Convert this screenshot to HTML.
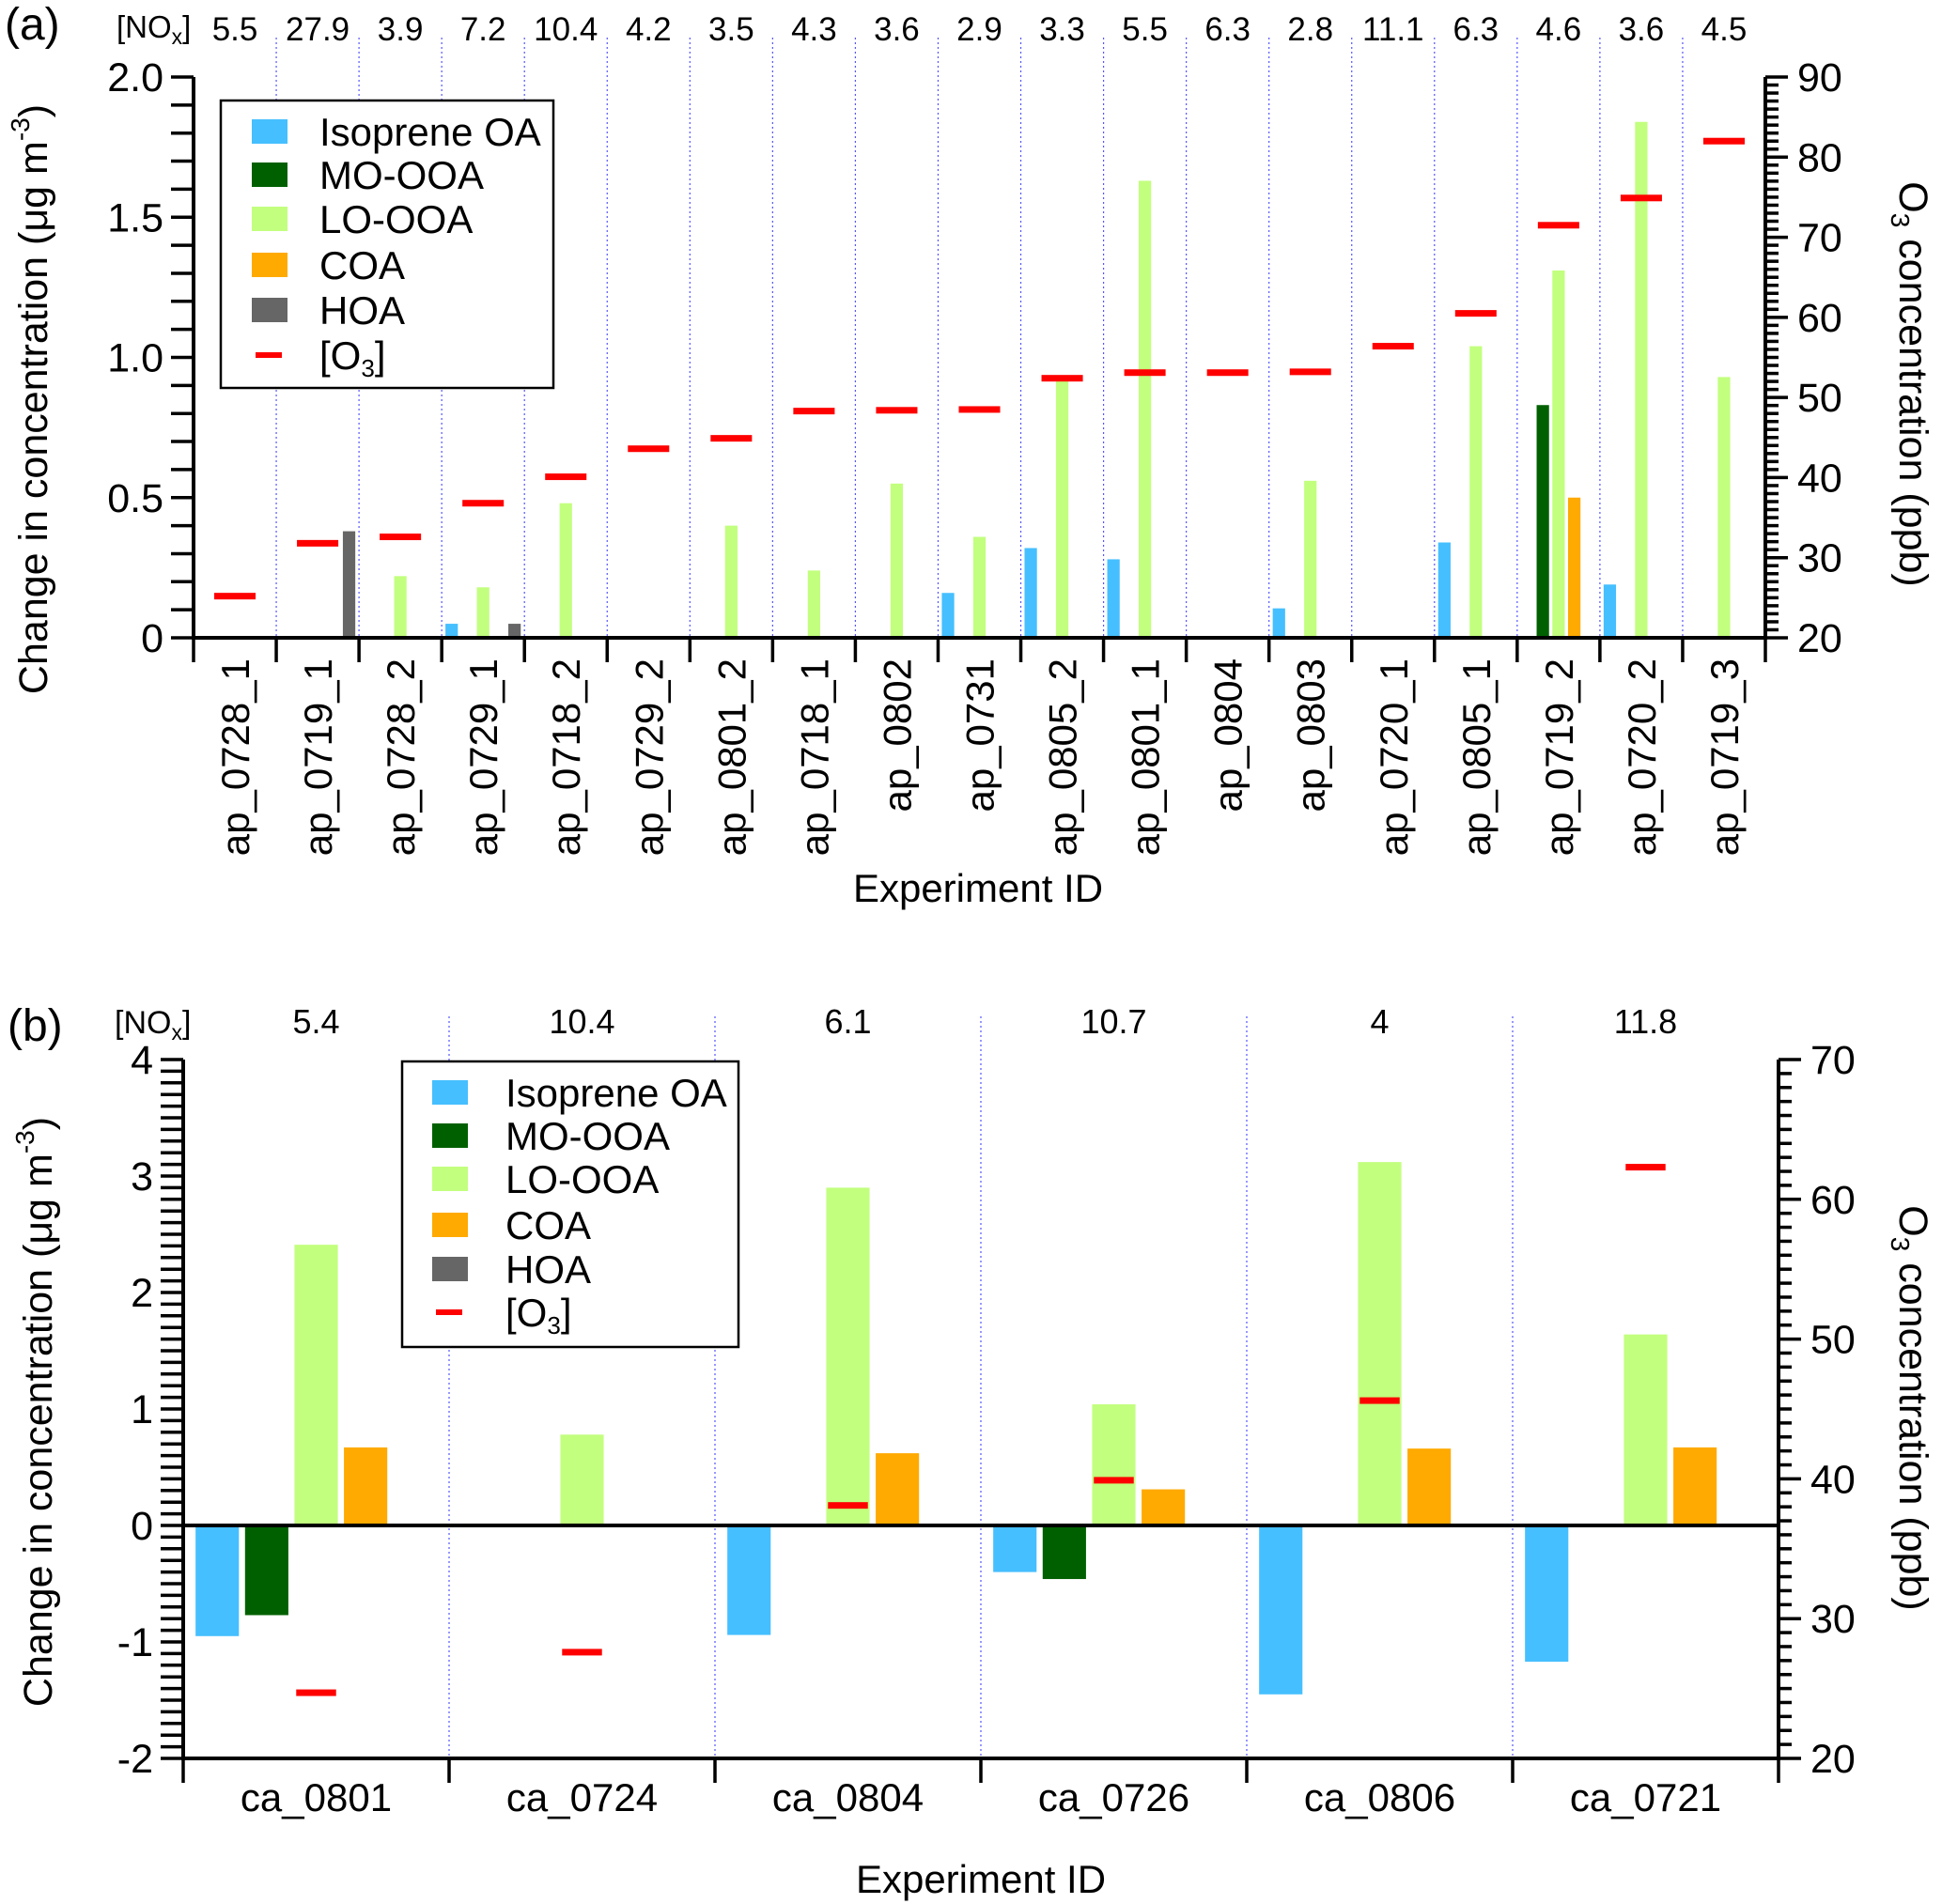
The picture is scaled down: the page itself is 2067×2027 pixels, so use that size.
<!DOCTYPE html>
<html><head><meta charset="utf-8"><style>
html,body{margin:0;padding:0;background:#fff;}
svg{display:block;font-family:"Liberation Sans",Arial,sans-serif;}
</style></head><body>
<svg id="chart" width="2067" height="2027" viewBox="0 0 2067 2027" xmlns="http://www.w3.org/2000/svg">
<rect width="2067" height="2027" fill="#fff"/>
<g id="pa"></g>
<g id="pb"></g>
</svg>
<script>
// ---- Panel (a) data ----
const catsA = ["ap_0728_1","ap_0719_1","ap_0728_2","ap_0729_1","ap_0718_2","ap_0729_2","ap_0801_2","ap_0718_1","ap_0802","ap_0731","ap_0805_2","ap_0801_1","ap_0804","ap_0803","ap_0720_1","ap_0805_1","ap_0719_2","ap_0720_2","ap_0719_3"];
const noxA = ["5.5","27.9","3.9","7.2","10.4","4.2","3.5","4.3","3.6","2.9","3.3","5.5","6.3","2.8","11.1","6.3","4.6","3.6","4.5"];
const isoA = [0,0,0,0.05,0,0,0,0,0,0.16,0.32,0.28,0,0.105,0,0.34,0,0.19,0];
const moA  = [0,0,0,0,0,0,0,0,0,0,0,0,0,0,0,0,0.83,0,0];
const loA  = [0,0,0.22,0.18,0.48,0,0.40,0.24,0.55,0.36,0.93,1.63,0,0.56,0,1.04,1.31,1.84,0.93];
const coaA = [0,0,0,0,0,0,0,0,0,0,0,0,0,0,0,0,0.50,0,0];
const hoaA = [0,0.38,0,0.05,0,0,0,0,0,0,0,0,0,0,0,0,0,0,0];
const o3A  = [25.2,31.8,32.6,36.8,40.1,43.6,44.9,48.3,48.4,48.5,52.4,53.1,53.1,53.2,56.4,60.5,71.5,74.9,82.0];
const leftTicksA = ["0","0.5","1.0","1.5","2.0"];
const rightTicksA = ["20","30","40","50","60","70","80","90"];
// ---- Panel (b) data ----
const catsB = ["ca_0801","ca_0724","ca_0804","ca_0726","ca_0806","ca_0721"];
const noxB = ["5.4","10.4","6.1","10.7","4","11.8"];
const isoB = [-0.95,0,-0.94,-0.40,-1.45,-1.17];
const moB  = [-0.77,0,0,-0.46,0,0];
const loB  = [2.41,0.78,2.90,1.04,3.12,1.64];
const coaB = [0.67,0,0.62,0.31,0.66,0.67];
const hoaB = [0,0,0,0,0,0];
const o3B  = [24.7,27.6,38.1,39.9,45.6,62.3];
const leftTicksB = ["-2","-1","0","1","2","3","4"];
const rightTicksB = ["20","30","40","50","60","70"];

const NS="http://www.w3.org/2000/svg";
const COLORS=["#45bfff","#006000","#c2ff7e","#ffaa00","#666666"];
const NAMES=["Isoprene OA","MO-OOA","LO-OOA","COA","HOA"];
function mk(p,tag,at){const e=document.createElementNS(NS,tag);for(const k in at)e.setAttribute(k,at[k]);p.appendChild(e);return e;}

function panel(g,cfg){
  const {cats,nox,series,o3,X0,X1,Ytop,Ybot,vmin,vmax,pmin,pmax,leftTicks,rightTicks,minorL,minorR,slot,bw,dashW,rotLabels}=cfg;
  const n=cats.length, cw=(X1-X0)/n;
  const yL=v=>Ybot-(v-vmin)/(vmax-vmin)*(Ybot-Ytop);
  const yR=p=>Ybot-(p-pmin)/(pmax-pmin)*(Ybot-Ytop);
  const cx=i=>X0+cw*(i+0.5);
  for(let i=1;i<n;i++){
    const l=mk(g,"line",{x1:X0+cw*i,x2:X0+cw*i,y1:cfg.sepTop,y2:Ybot,stroke:"#5555ff","stroke-width":1.2,"stroke-dasharray":"2,3"});
    
    
  }
  const sn=["isoprene-oa","mo-ooa","lo-ooa","coa","hoa"];
  series.forEach((arr,s)=>{
    arr.forEach((v,i)=>{
      if(!v) return;
      const x=X0+cw*i+cw*(0.5+(s-2)*slot)-cw*bw/2;
      const y0=yL(0), y1=yL(v);
      const r=mk(g,"rect",{x:x,y:Math.min(y0,y1),width:cw*bw,height:Math.abs(y1-y0),fill:COLORS[s]});
      
      
    });
  });
  const za=mk(g,"line",{x1:X0,x2:X1,y1:yL(0),y2:yL(0),stroke:"#000","stroke-width":4});
  
  
  if(cfg.bottomAxis){const b=mk(g,"line",{x1:X0,x2:X1,y1:Ybot,y2:Ybot,stroke:"#000","stroke-width":4});
    
    }
  o3.forEach((p,i)=>{
    const r=mk(g,"rect",{x:cx(i)-cw*dashW/2,y:yR(p)-3.5,width:cw*dashW,height:7,fill:"#ff0000"});
    
    
  });
  const la=mk(g,"line",{x1:X0,x2:X0,y1:Ytop,y2:Ybot+2,stroke:"#000","stroke-width":4});
  
  
  const ra=mk(g,"line",{x1:X1,x2:X1,y1:Ytop,y2:Ybot+2,stroke:"#000","stroke-width":4});
  
  
  for(let v=vmin;v<=vmax+1e-9;v+=minorL){
    mk(g,"line",{x1:X0-24,x2:X0,y1:yL(v),y2:yL(v),stroke:"#000","stroke-width":3.5});
  }
  leftTicks.forEach(t=>{
    const e=mk(g,"text",{x:X0-32,y:yL(parseFloat(t))+15,"text-anchor":"end","font-size":cfg.tickFs});
    e.textContent=t;
    
    
  });
  for(let p=pmin;p<=pmax+1e-9;p+=minorR){
    const major=Math.abs(p%10)<1e-6;
    mk(g,"line",{x1:X1,x2:X1+(major?24:14),y1:yR(p),y2:yR(p),stroke:"#000","stroke-width":3.5});
  }
  rightTicks.forEach(t=>{
    const e=mk(g,"text",{x:X1+34,y:yR(parseFloat(t))+15,"font-size":cfg.tickFs});
    e.textContent=t;
    
    
  });
  for(let i=0;i<=n;i++){
    mk(g,"line",{x1:X0+cw*i,x2:X0+cw*i,y1:Ybot,y2:Ybot+26,stroke:"#000","stroke-width":3.5});
  }
  cats.forEach((c,i)=>{
    let e;
    if(rotLabels){
      e=mk(g,"text",{x:0,y:0,"text-anchor":"end","font-size":42,transform:`translate(${cx(i)+15},${Ybot+22}) rotate(-90)`});
    } else {
      e=mk(g,"text",{x:cx(i),y:Ybot+56,"text-anchor":"middle","font-size":42});
    }
    e.textContent=c;
    
    
  });
  nox.forEach((t,i)=>{
    const e=mk(g,"text",{x:cx(i),y:cfg.noxY,"text-anchor":"middle","font-size":cfg.noxFs});
    e.textContent=t;
    
    
  });
  return {yL,yR};
}

function legend(g,x,y,w,h,sx,tx,rows,fs){
  const b=mk(g,"rect",{x:x,y:y,width:w,height:h,fill:"#fff",stroke:"#000","stroke-width":2.5});
  
  
  for(let k=0;k<6;k++){
    const ry=rows[k];
    if(k<5){
      const s=mk(g,"rect",{x:sx,y:ry-13,width:38,height:26,fill:COLORS[k]});
      
      
      const t=mk(g,"text",{x:tx,y:ry+15,"font-size":fs});
      t.textContent=NAMES[k];
      
      
    } else {
      const s=mk(g,"rect",{x:sx+4,y:ry-3,width:28,height:6,fill:"#ff0000"});
      
      
      const t=mk(g,"text",{x:tx,y:ry+15,"font-size":fs});
      t.innerHTML='[O<tspan font-size="'+(fs*0.62)+'" dy="8">3</tspan><tspan dy="-8">]</tspan>';
      
      
    }
  }
}

function txt(g,attrs,html,name){
  const e=mk(g,"text",attrs);e.innerHTML=html;
  
  
  return e;
}

const ga=document.getElementById('pa'), gb=document.getElementById('pb');
panel(ga,{cats:catsA,nox:noxA,series:[isoA,moA,loA,coaA,hoaA],o3:o3A,X0:206,X1:1879,Ytop:82,Ybot:679,vmin:0,vmax:2,pmin:20,pmax:90,
  leftTicks:leftTicksA,rightTicks:rightTicksA,minorL:0.1,minorR:1,slot:0.19,bw:0.15,dashW:0.5,rotLabels:true,sepTop:40,noxY:43,noxFs:35,tickFs:43,bottomAxis:false});
panel(gb,{cats:catsB,nox:noxB,series:[isoB,moB,loB,coaB,hoaB],o3:o3B,X0:195,X1:1893,Ytop:1128,Ybot:1872,vmin:-2,vmax:4,pmin:20,pmax:70,
  leftTicks:leftTicksB,rightTicks:rightTicksB,minorL:0.1,minorR:1,slot:0.186,bw:0.163,dashW:0.15,rotLabels:false,sepTop:1082,noxY:1100,noxFs:36,tickFs:43,bottomAxis:true});

legend(ga,235,107,354,306,268,340,[140,186,233,282,330,378],42);
legend(gb,428,1130,358,304,460,538,[1163,1209,1255,1304,1351,1397],42);

txt(ga,{x:5,y:42,"font-size":48},"(a)","panel-a-label");
txt(ga,{x:124,y:40,"font-size":33},'[NO<tspan font-size="23" dy="7">x</tspan><tspan dy="-7">]</tspan>',"nox-header");
txt(ga,{x:1041,y:960,"text-anchor":"middle","font-size":42},"Experiment ID","x-axis-title");
txt(ga,{x:0,y:0,"text-anchor":"middle","font-size":43,transform:"translate(50,425) rotate(-90)"},'Change in concentration (μg m<tspan font-size="28" dy="-19">-3</tspan><tspan dy="19">)</tspan>',"left-y-axis-title");
txt(ga,{x:0,y:0,"text-anchor":"middle","font-size":43,transform:"translate(2022,409) rotate(90)"},'O<tspan font-size="28" dy="9">3</tspan><tspan dy="-9"> concentration (ppb)</tspan>',"right-y-axis-title");

txt(gb,{x:8,y:1108,"font-size":48},"(b)","panel-b-label");
txt(gb,{x:122,y:1100,"font-size":34},'[NO<tspan font-size="23" dy="7">x</tspan><tspan dy="-7">]</tspan>',"nox-header");
txt(gb,{x:1044,y:2015,"text-anchor":"middle","font-size":42},"Experiment ID","x-axis-title");
txt(gb,{x:0,y:0,"text-anchor":"middle","font-size":43,transform:"translate(55,1503) rotate(-90)"},'Change in concentration (μg m<tspan font-size="28" dy="-19">-3</tspan><tspan dy="19">)</tspan>',"left-y-axis-title");
txt(gb,{x:0,y:0,"text-anchor":"middle","font-size":43,transform:"translate(2022,1499) rotate(90)"},'O<tspan font-size="28" dy="9">3</tspan><tspan dy="-9"> concentration (ppb)</tspan>',"right-y-axis-title");
</script>
</body></html>
